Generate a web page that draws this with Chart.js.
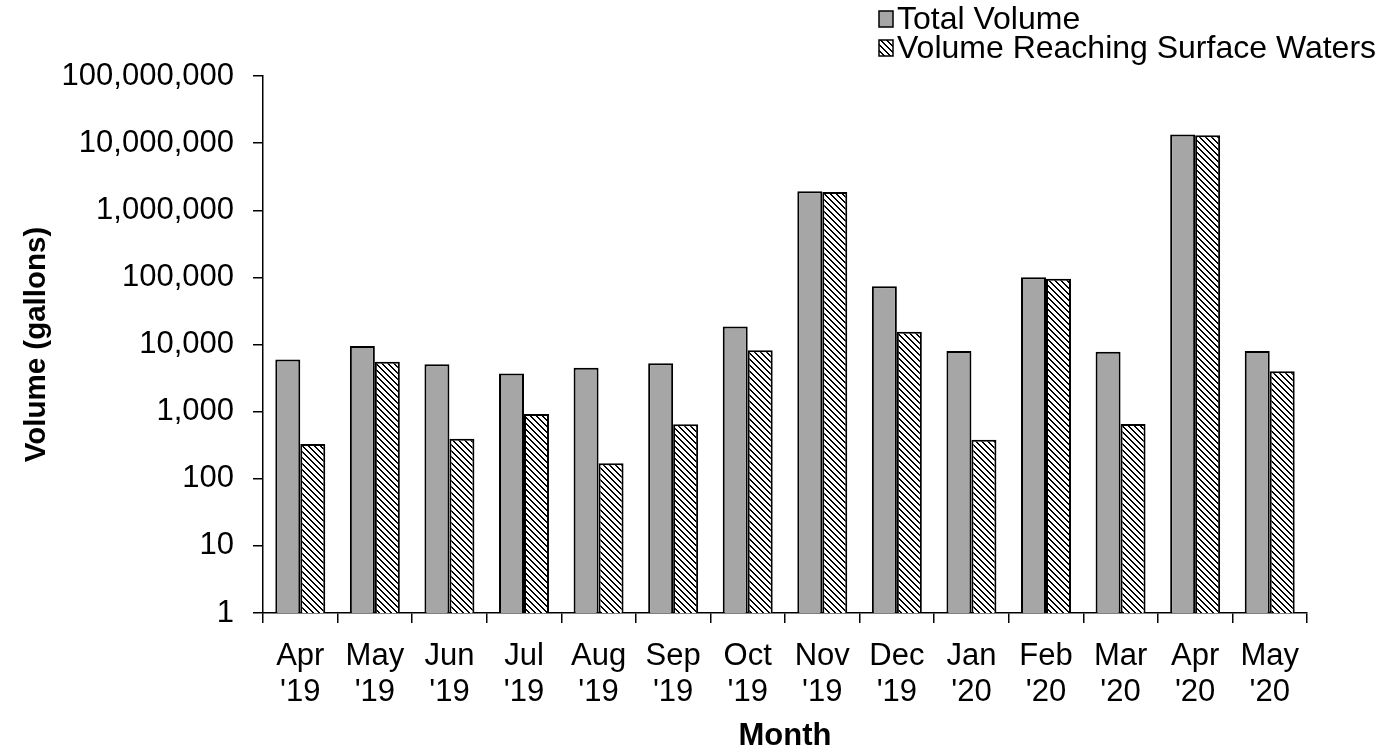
<!DOCTYPE html>
<html>
<head>
<meta charset="utf-8">
<script src="https://cdn.jsdelivr.net/npm/chart.js@4"></script>
<style>
  html, body { margin: 0; padding: 0; background: #fff; }
  #wrap { width: 1385px; height: 752px; }
</style>
</head>
<body>
<div id="wrap"><canvas id="myChart" width="1385" height="752"></canvas></div>
<script>
// values (gallons, log axis)
const months = [['Apr', "'19"], ['May', "'19"], ['Jun', "'19"], ['Jul', "'19"], ['Aug', "'19"], ['Sep', "'19"],
  ['Oct', "'19"], ['Nov', "'19"], ['Dec', "'19"], ['Jan', "'20"], ['Feb', "'20"], ['Mar', "'20"], ['Apr', "'20"], ['May', "'20"]];
const totalVolume = [6000, 9500, 5100, 3700, 4500, 5250, 18500, 1920000, 73600, 8000, 100300, 7800, 13400000, 8000];
const surfaceVolume = [330, 5550, 395, 920, 170, 650, 8200, 1870000, 15500, 382, 95700, 655, 13100000, 3990];
const yTicks = [1, 10, 100, 1000, 10000, 100000, 1000000, 10000000, 100000000];

const FONT = 'Liberation Sans, Arial, sans-serif';

// hatch pattern for the second series
function makeHatch() {
    const c = document.createElement('canvas');
    c.width = 6; c.height = 6;
    const g = c.getContext('2d');
    g.fillStyle = '#fff';
    g.fillRect(0, 0, 6, 6);
    g.fillStyle = '#000';
    for (let i = 0; i < 6; i++) {
        g.fillRect(i, i, 1, 1);
        g.fillRect((i + 1) % 6, i, 1, 1);
    }
    return document.createElement('canvas').getContext('2d').createPattern(c, 'repeat');
}
const hatch = makeHatch();

// legend stacked at the top right like the original
const legendPlugin = {
    id: 'stackLegend',
    afterDraw(chart) {
        const ctx = chart.ctx;
        ctx.save();
        ctx.font = '32px ' + FONT;
        ctx.textBaseline = 'middle';
        const rows = [19, 48];
        chart.data.datasets.forEach(function (ds, i) {
            const y = rows[i];
            ctx.fillStyle = ds.backgroundColor;
            ctx.fillRect(879, y - 8, 14, 16);
            ctx.strokeStyle = '#000';
            ctx.lineWidth = 1.5;
            ctx.strokeRect(879, y - 8, 14, 16);
            ctx.fillStyle = '#000';
            ctx.fillText(ds.label, 897, y + 1);
        });
        ctx.restore();
    }
};

const ctx = document.getElementById('myChart').getContext('2d');
const config = {
    type: 'bar',
    data: {
        labels: months,
        datasets: [{
            label: 'Total Volume',
            data: totalVolume,
            backgroundColor: '#a6a6a6',
            borderColor: '#000',
            borderWidth: 2
        }, {
            label: 'Volume Reaching Surface Waters',
            data: surfaceVolume,
            backgroundColor: hatch,
            borderColor: '#000',
            borderWidth: 2
        }]
    },
    options: {
        responsive: false,
        animation: false,
        layout: { padding: { top: 76, right: 78, left: 0, bottom: 0 } },
        datasets: { bar: { categoryPercentage: 0.67, barPercentage: 1.0 } },
        plugins: {
            legend: { display: false },
            tooltip: { enabled: false }
        },
        scales: {
            x: {
                afterFit: function (scale) { scale.height = 139; },
                grid: { drawOnChartArea: false, drawTicks: true, tickLength: 10, color: '#000', lineWidth: 1.5 },
                border: { color: '#000', width: 1.5 },
                ticks: { color: '#000', font: { family: FONT, size: 31, lineHeight: 1.17 }, padding: 15, maxRotation: 0, autoSkip: false },
                title: { display: true, text: 'Month', color: '#000', font: { family: FONT, size: 31, weight: 'bold' }, padding: { top: 0, bottom: -3 } }
            },
            y: {
                type: 'logarithmic',
                min: 1,
                max: 100000000,
                afterBuildTicks: function (scale) {
                    scale.ticks = yTicks.map(function (v) { return { value: v, major: false }; });
                },
                afterFit: function (scale) { scale.width = 263; },
                grid: { drawOnChartArea: false, drawTicks: true, tickLength: 10, color: '#000', lineWidth: 1.5 },
                border: { color: '#000', width: 1.5 },
                ticks: {
                    color: '#000',
                    font: { family: FONT, size: 31 },
                    padding: 19,
                    callback: function (v) { return Number(v).toLocaleString('en-US'); }
                },
                title: { display: true, text: 'Volume (gallons)', color: '#000', font: { family: FONT, size: 29.5, weight: 'bold' }, padding: { top: 19, bottom: 0 } }
            }
        }
    },
    plugins: [legendPlugin]
};
const myChart = new Chart(ctx, config);
</script>
</body>
</html>
